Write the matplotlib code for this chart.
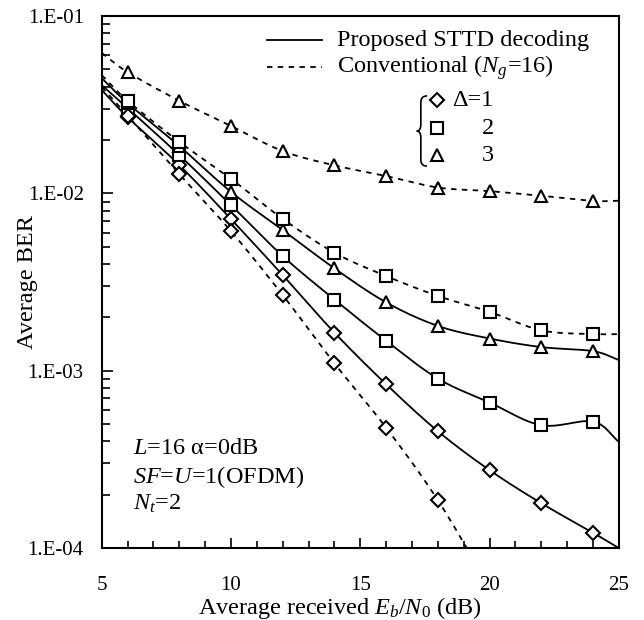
import numpy as np
import matplotlib
matplotlib.use("Agg")
import matplotlib.pyplot as plt
from matplotlib.ticker import FixedLocator, FuncFormatter, LogLocator, NullFormatter
from matplotlib.path import Path
from matplotlib.patches import PathPatch

plt.rcParams['font.family'] = ['Liberation Serif', 'DejaVu Serif']
plt.rcParams['mathtext.fontset'] = 'custom'
plt.rcParams['mathtext.rm'] = 'Liberation Serif'
plt.rcParams['mathtext.it'] = 'Liberation Serif:italic'
plt.rcParams['font.size'] = 17.5

# Eb/N0 (dB) where markers sit
snr = [6, 8, 10, 12, 14, 16, 18, 20, 22, 24]

# proposed STTD decoding (solid)
prop_d1 = [0.0269, 0.01445, 0.00716, 0.00346, 0.00164, 0.000839, 0.000456, 0.000275, 0.000179, 0.000122]
prop_d2 = [0.0303, 0.01644, 0.00859, 0.00443, 0.00252, 0.001476, 0.000903, 0.000662, 0.000493, 0.000517]
prop_d3 = [0.0323, 0.0185, 0.0102, 0.00621, 0.00378, 0.00243, 0.00179, 0.00152, 0.00136, 0.00129]

# conventional, Ng=16 (dashed)
conv_d1 = [0.0275, 0.01285, 0.00612, 0.00267, 0.0011, 0.000477, 0.000186]
conv_d2 = [0.0333, 0.01954, 0.01208, 0.00719, 0.00463, 0.00342, 0.00264, 0.00215, 0.00169, 0.00161]
conv_d3 = [0.0483, 0.0333, 0.0240, 0.01734, 0.0144, 0.01253, 0.0108, 0.0103, 0.0097, 0.00908]

# where each curve runs out at the plot edges (x, BER)
prop_d1_ends = [(5, 0.0383), (25, 0.0001)]
prop_d2_ends = [(5, 0.0408), (25, 0.000397)]
prop_d3_ends = [(5, 0.0447), (25, 0.00115)]
conv_d1_ends = [(5, 0.0398), (20, 0.00006)]
conv_d2_ends = [(5, 0.0465), (25, 0.00161)]
conv_d3_ends = [(5, 0.062), (25, 0.0091)]


def smooth(x, y, n=24):
    # catmull-rom through the points, done in log space like excel's smoothed lines
    pts = np.column_stack([np.asarray(x, float), np.log10(y)])
    P = np.vstack([2 * pts[0] - pts[1], pts, 2 * pts[-1] - pts[-2]])
    t = np.linspace(0, 1, n, endpoint=False)[:, None]
    out = []
    for i in range(1, len(P) - 2):
        p0, p1, p2, p3 = P[i - 1], P[i], P[i + 1], P[i + 2]
        seg = 0.5 * (2 * p1 + (-p0 + p2) * t + (2 * p0 - 5 * p1 + 4 * p2 - p3) * t ** 2
                     + (-p0 + 3 * p1 - 3 * p2 + p3) * t ** 3)
        out.append(seg)
    out.append(P[-2][None])
    arr = np.vstack(out)
    return arr[:, 0], 10 ** arr[:, 1]


fig = plt.figure(figsize=(6.44, 6.2), dpi=100)
ax = fig.add_axes([0.158, 0.116, 0.803, 0.858])

series = [
    (prop_d1, prop_d1_ends, '-', 'D', 7.5),
    (prop_d2, prop_d2_ends, '-', 's', 8),
    (prop_d3, prop_d3_ends, '-', '^', 9),
    (conv_d1, conv_d1_ends, (0, (3, 3)), 'D', 7.5),
    (conv_d2, conv_d2_ends, (0, (3, 3)), 's', 8),
    (conv_d3, conv_d3_ends, (0, (3, 3)), '^', 9),
]
for vals, ends, ls, mk, ms in series:
    xs = snr[:len(vals)]
    lx = [ends[0][0]] + xs + [ends[1][0]]
    ly = [ends[0][1]] + vals + [ends[1][1]]
    sx, sy = smooth(lx, ly)
    ax.plot(sx, sy, color='black', lw=1.3, ls=ls, zorder=2)
    ax.plot(xs, vals, ls='none', marker=mk, ms=ms, mfc='white', mec='black', mew=1.5, zorder=3)

ax.set_yscale('log')
ax.set_xlim(5, 25)
ax.set_ylim(1e-4, 1e-1)

ax.xaxis.set_major_locator(FixedLocator([5, 10, 15, 20, 25]))
ax.xaxis.set_minor_locator(FixedLocator(range(5, 26)))
ax.yaxis.set_major_locator(FixedLocator([1e-4, 1e-3, 1e-2, 1e-1]))
ax.yaxis.set_minor_locator(LogLocator(base=10, subs=np.arange(2, 10)))
ax.yaxis.set_minor_formatter(NullFormatter())
ax.yaxis.set_major_formatter(FuncFormatter(lambda v, p: "1.E-%02d" % round(-np.log10(v))))

ax.tick_params(axis='both', which='both', direction='in', top=False, right=False, width=1.2)
ax.tick_params(axis='y', which='major', length=8, pad=13, labelsize=15)
ax.tick_params(axis='y', which='minor', length=6)
ax.tick_params(axis='x', which='major', length=7, pad=20, labelsize=15)
ax.tick_params(axis='x', which='minor', length=5)
for s in ax.spines.values():
    s.set_linewidth(1.5)

ax.set_xlabel(r"Average received $E_b/N_0$ (dB)")
ax.xaxis.set_label_coords(0.46, -0.088)
ax.set_ylabel("Average BER")
ax.yaxis.set_label_coords(-0.124, 0.5)

# legend, drawn by hand
ax.plot([0.319, 0.426], [0.955, 0.955], transform=ax.transAxes, color='black', lw=1.3)
ax.plot([0.319, 0.426], [0.904, 0.904], transform=ax.transAxes, color='black', lw=1.3, ls=(0, (3, 3)))
ax.text(0.455, 0.955, "Proposed STTD decoding", transform=ax.transAxes, va='center')
ax.text(0.455, 0.904, r"Conventional ($N_g$=16)", transform=ax.transAxes, va='center')

rows = [0.842, 0.789, 0.738]
for yy, mk, ms, lab in zip(rows, ['D', 's', '^'], [7.5, 8, 9], ["Δ=1", "2", "3"]):
    ax.plot([0.648], [yy], transform=ax.transAxes, ls='none', marker=mk, ms=ms,
            mfc='white', mec='black', mew=1.5)
    ax.text(0.758, yy, lab, transform=ax.transAxes, va='center', ha='right')

# curly brace in front of the marker list
bx, btop, bbot = 0.617, 0.850, 0.718
bmid = (btop + bbot) / 2
verts = [(bx + 0.012, btop), (bx, btop), (bx, btop - 0.012), (bx, bmid + 0.012),
         (bx, bmid), (bx - 0.008, bmid), (bx, bmid), (bx, bmid - 0.012),
         (bx, bbot + 0.012), (bx, bbot), (bx + 0.012, bbot)]
codes = [Path.MOVETO, Path.CURVE3, Path.CURVE3, Path.LINETO,
         Path.CURVE3, Path.CURVE3, Path.CURVE3, Path.CURVE3,
         Path.LINETO, Path.CURVE3, Path.CURVE3]
ax.add_patch(PathPatch(Path(verts, codes), transform=ax.transAxes, fill=False, lw=1.2, color='black'))

ax.text(0.06, 0.188, r"$L$=16 α=0dB", transform=ax.transAxes, va='center')
ax.text(0.06, 0.133, r"$SF$=$U$=1(OFDM)", transform=ax.transAxes, va='center')
ax.text(0.06, 0.084, r"$N_t$=2", transform=ax.transAxes, va='center')

fig.savefig("out.png", dpi=100)
